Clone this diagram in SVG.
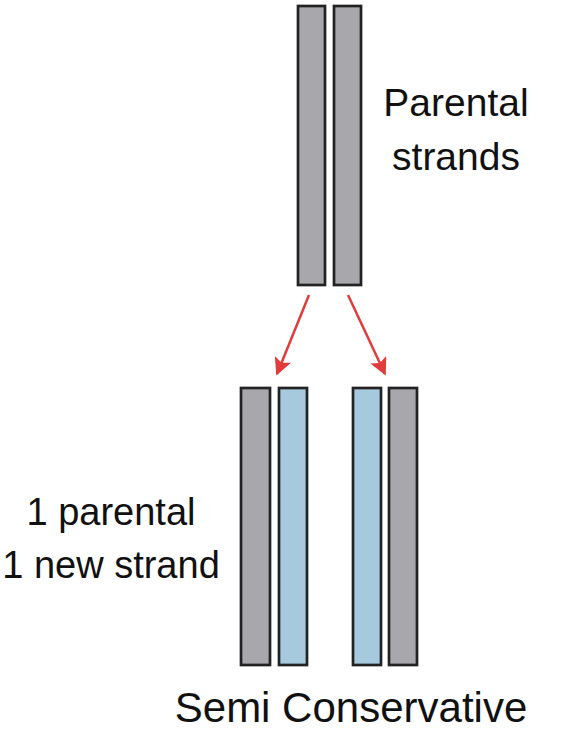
<svg xmlns="http://www.w3.org/2000/svg" width="568" height="736" viewBox="0 0 568 736">
<style>
.g{fill:#a8a8ac;stroke:#222;stroke-width:2.7}
.b{fill:#a7c9de;stroke:#222;stroke-width:2.7}
.t{font-family:"Liberation Sans",Arial,sans-serif;fill:#111}
.a{stroke:#e23b3b;stroke-width:2.5;fill:none}
</style>
<defs>
<marker id="ah" viewBox="0 0 10 10" refX="9" refY="5" markerWidth="7" markerHeight="7" markerUnits="strokeWidth" orient="auto">
<path d="M0,0 L10,5 L0,10 L2,5 z" fill="#e23b3b"/>
</marker>
</defs>
<rect width="568" height="736" fill="#fff"/>
<g id="parental">
<rect class="g" x="298" y="6" width="27" height="279"/>
<rect class="g" x="334" y="6" width="27" height="279"/>
</g>
<g id="daughter-left">
<rect class="g" x="241" y="388" width="29" height="277"/>
<rect class="b" x="279" y="388" width="28" height="277"/>
</g>
<g id="daughter-right">
<rect class="b" x="353" y="388" width="28" height="277"/>
<rect class="g" x="389" y="388" width="28" height="277"/>
</g>
<g id="connectors">
<line class="a" x1="309" y1="295" x2="277" y2="374" marker-end="url(#ah)"/>
<line class="a" x1="348" y1="295" x2="385" y2="374" marker-end="url(#ah)"/>
</g>
<g id="labels">
<text class="t" x="456" y="116" font-size="39" text-anchor="middle">Parental</text>
<text class="t" x="456" y="170" font-size="39" text-anchor="middle">strands</text>
<text class="t" x="111" y="525" font-size="38" text-anchor="middle">1 parental</text>
<text class="t" x="111" y="578" font-size="38" text-anchor="middle">1 new strand</text>
<text class="t" x="351" y="722" font-size="42" text-anchor="middle">Semi Conservative</text>
</g>
</svg>
